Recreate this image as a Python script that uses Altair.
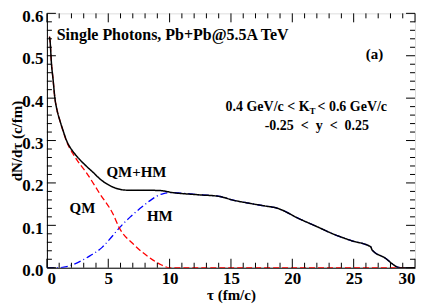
import altair as alt
import pandas as pd

# ---- data ----
tot_tau = [0.2, 0.24, 0.38, 0.5, 0.65, 0.8, 1.06, 1.3, 1.6, 2.1, 2.4, 3.2, 3.8, 4.3, 5.4, 6.5, 7.8, 9.2, 10.3, 12.4, 14.1, 15.1, 16.5, 17.7, 18.7, 20.6, 22.0, 23.3, 24.8, 26.4, 26.5, 27.5, 28.8, 30.0]
tot_val = [0.545, 0.54, 0.478, 0.445, 0.40, 0.375, 0.347, 0.325, 0.30, 0.275, 0.264, 0.24, 0.224, 0.21, 0.19, 0.183, 0.183, 0.182, 0.177, 0.172, 0.168, 0.16, 0.152, 0.146, 0.141, 0.115, 0.097, 0.080, 0.064, 0.049, 0.042, 0.024, 0.0, 0.0]

qm_tau = [0.2, 0.24, 0.38, 0.5, 0.65, 0.8, 1.06, 1.3, 1.6, 2.1, 2.4, 3.2, 4.3, 5.4, 5.9, 7.0, 8.4, 9.3, 10.0, 30.0]
qm_val = [0.545, 0.54, 0.478, 0.445, 0.40, 0.375, 0.347, 0.324, 0.298, 0.27, 0.256, 0.225, 0.175, 0.126, 0.094, 0.057, 0.023, 0.007, 0.0, 0.0]

hm_tau = [0.0, 1.0, 1.5, 1.9, 2.9, 3.5, 4.5, 5.2, 5.9, 6.8, 7.6, 8.3, 8.9, 9.5, 10.0, 10.3, 12.4, 14.1, 15.1, 16.5, 17.7, 18.7, 20.6, 22.0, 23.3, 24.8, 26.4, 26.5, 27.5, 28.8, 30.0]
hm_val = [0.0, 0.0, 0.002, 0.005, 0.018, 0.028, 0.048, 0.07, 0.094, 0.12, 0.14, 0.156, 0.168, 0.175, 0.177, 0.177, 0.172, 0.168, 0.16, 0.152, 0.146, 0.141, 0.115, 0.097, 0.080, 0.064, 0.049, 0.042, 0.024, 0.0, 0.0]

x_major = [0, 5, 10, 15, 20, 25, 30]
x_minor = [i for i in range(1, 30) if i % 5 != 0]
y_major = [0.0, 0.1, 0.2, 0.3, 0.4, 0.5, 0.6]
y_minor = [round(0.02 * i, 2) for i in range(1, 30) if i % 5 != 0]

labels = ["QM+HM", "QM", "HM"]
label_tau = [7.3, 2.9, 9.2]
label_val = [0.225, 0.142, 0.122]

W, H = 369, 255
FONT = "Liberation Serif"

xs = alt.Scale(domain=[0, 30], nice=False, zero=False)
ys = alt.Scale(domain=[0, 0.6], nice=False, zero=False)

X_AX = alt.Axis(values=x_major, format="d", tickSize=0, grid=False, labelPadding=3,
                labelFont=FONT, labelFontSize=17, labelFontWeight="bold", labelColor="black",
                title="τ (fm/c)", titleFont=FONT, titleFontSize=15, titleFontWeight="bold",
                titleColor="black", titlePadding=1, domainColor="black")
Y_AX = alt.Axis(values=y_major, format=".1f", tickSize=0, grid=False, labelPadding=4, labelOffset=3,
                labelFont=FONT, labelFontSize=17, labelFontWeight="bold", labelColor="black",
                title="dN/dτ (c/fm)", titleFont=FONT, titleFontSize=15, titleFontWeight="bold",
                titleColor="black", titlePadding=-3, domainColor="black")

def X(f="tau"):
    return alt.X(f"{f}:Q", scale=xs, axis=X_AX, title="τ (fm/c)")

def Y(f="val"):
    return alt.Y(f"{f}:Q", scale=ys, axis=Y_AX, title="dN/dτ (c/fm)")

def curve(t, v, color, dash, width):
    df = pd.DataFrame({"tau": t, "val": v})
    return alt.Chart(df).mark_line(color=color, strokeWidth=width, strokeDash=dash,
                                   interpolate="monotone", clip=True).encode(x=X(), y=Y())

def xticks(vals, length):
    df = pd.DataFrame({"tau": vals})
    b = alt.Chart(df).mark_rule(color="black", strokeWidth=1).encode(x=X(), y=alt.value(H), y2=alt.value(H - length))
    t = alt.Chart(df).mark_rule(color="black", strokeWidth=1).encode(x=X(), y=alt.value(0), y2=alt.value(length))
    return b + t

def yticks(vals, length):
    df = pd.DataFrame({"val": vals})
    l = alt.Chart(df).mark_rule(color="black", strokeWidth=1).encode(y=Y(), x=alt.value(0), x2=alt.value(length))
    r = alt.Chart(df).mark_rule(color="black", strokeWidth=1).encode(y=Y(), x=alt.value(W), x2=alt.value(W - length))
    return l + r

def text(t, v, s, size, align="center", dy=0):
    df = pd.DataFrame({"tau": [t], "val": [v], "s": [s]})
    return alt.Chart(df).mark_text(font=FONT, fontSize=size, fontWeight="bold", align=align,
                                   baseline="middle", dy=dy, color="black").encode(x=X(), y=Y(), text="s:N")

lab_df = pd.DataFrame({"tau": label_tau, "val": label_val, "s": labels})
lab = alt.Chart(lab_df).mark_text(font=FONT, fontSize=15, fontWeight="bold", baseline="middle",
                                  color="black").encode(x=X(), y=Y(), text="s:N")

layers = [
    curve(hm_tau, hm_val, "#0000ff", [7, 3, 1, 3], 1.3),
    curve(qm_tau, qm_val, "#ff0000", [6, 3], 1.3),
    curve(tot_tau, tot_val, "black", [1, 0], 1.5),
    xticks(x_major, 9), xticks(x_minor, 5), yticks(y_major, 9), yticks(y_minor, 5),
    lab,
    text(0.8, 0.55, "Single Photons, Pb+Pb@5.5A TeV", 16, align="left"),
    text(26.7, 0.505, "(a)", 15),
    text(21.4, 0.38, "0.4 GeV/c < K", 14, align="right"),
    text(21.4, 0.38, "T", 9, align="left", dy=4),
    text(22.05, 0.38, "< 0.6 GeV/c", 14, align="left"),
    text(22.0, 0.335, "-0.25\u2002<\u2002y\u2002<\u20020.25", 14),
]

chart = alt.layer(*layers).properties(
    width=W, height=H,
    autosize=alt.AutoSizeParams(type="none"),
    padding={"left": 39, "top": 5, "right": 4, "bottom": 37},
).configure_view(stroke="black", strokeWidth=1).configure(background="white")

chart.save("out.html", embed_options={"renderer": "svg", "actions": False})
